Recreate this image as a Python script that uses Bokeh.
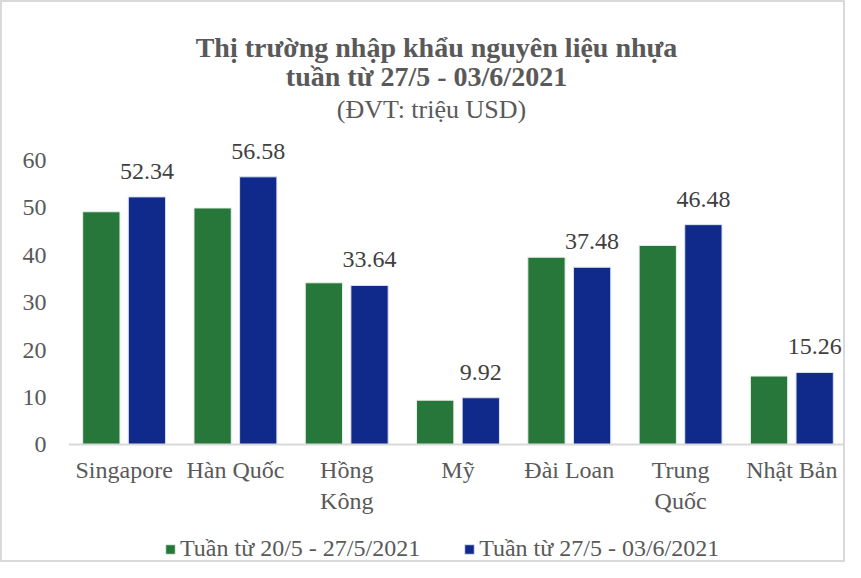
from bokeh.plotting import figure
from bokeh.models import (ColumnDataSource, FixedTicker, Label, Legend, LegendItem, Range1d)
from bokeh.core.properties import value
from bokeh.embed import file_html
from bokeh.resources import INLINE

categories = ["Singapore", "Hàn Quốc", "Hồng\nKông", "Mỹ", "Đài Loan", "Trung\nQuốc", "Nhật Bản"]
week1 = [49.2, 50.0, 34.2, 9.4, 39.6, 42.1, 14.5]
week2 = [52.34, 56.58, 33.64, 9.92, 37.48, 46.48, 15.26]
series_names = ["Tuần từ 20/5 - 27/5/2021", "Tuần từ 27/5 - 03/6/2021"]
y_ticks = [0, 10, 20, 30, 40, 50, 60]

FONT = "Liberation Serif"
GREEN = "#27763A"
BLUE = "#102A8B"
GRAY = "#595959"

idx = list(range(len(categories)))
dodge = 0.205
bw = 0.335
src = ColumnDataSource(dict(
    x1=[i - dodge for i in idx], x2=[i + dodge for i in idx],
    w1=week1, w2=week2, lab=[f"{v:.2f}" for v in week2],
))

W, H = 845, 562
# frame spans full canvas height; the x axis sits at y=0 (fixed location)
p = figure(width=W, height=H, output_backend="svg", toolbar_location=None,
           x_range=Range1d(-0.5, len(categories) - 0.5), y_range=Range1d(-25.3, 93.4),
           min_border_left=66, min_border_right=0, min_border_top=0, min_border_bottom=0)
p.styles = {"border": "2px solid #d9d9d9"}
p.outline_line_color = None
p.grid.grid_line_color = None

r1 = p.vbar(x="x1", top="w1", width=bw, source=src, fill_color=GREEN, line_color="#e8f0ea", line_width=1)
r2 = p.vbar(x="x2", top="w2", width=bw, source=src, fill_color=BLUE, line_color="#dde2f0", line_width=1)

p.text(x="x2", y="w2", text="lab", source=src, text_align="center", text_baseline="bottom",
       y_offset=-18, text_font=value(FONT), text_font_size="24px", text_color="#404040")

p.xaxis.fixed_location = 0
p.xaxis.ticker = FixedTicker(ticks=idx)
p.xaxis.major_label_overrides = {i: c for i, c in enumerate(categories)}
p.xaxis.major_tick_line_color = None
p.xaxis.minor_tick_line_color = None
p.xaxis.axis_line_color = "#d9d9d9"
p.xaxis.axis_line_width = 2
p.xaxis.major_label_standoff = 6
p.xaxis.major_label_text_font = FONT
p.xaxis.major_label_text_font_size = "24px"
p.xaxis.major_label_text_color = GRAY

p.yaxis.ticker = FixedTicker(ticks=y_ticks)
p.yaxis.major_tick_line_color = None
p.yaxis.minor_tick_line_color = None
p.yaxis.axis_line_color = None
p.yaxis.major_label_standoff = 16
p.yaxis.major_label_text_font = FONT
p.yaxis.major_label_text_font_size = "24px"
p.yaxis.major_label_text_color = GRAY

# screen units are relative to the plot frame (origin at frame bottom-left)
for txt, xx, yy, style, size in [("Thị trường nhập khẩu nguyên liệu nhựa", 368, 517, "bold", "28px"),
                                  ("tuần từ 27/5 - 03/6/2021", 358, 488, "bold", "28px"),
                                  ("(ĐVT: triệu USD)", 363, 455, "normal", "26px")]:
    p.add_layout(Label(x=xx, y=yy, x_units="screen", y_units="screen", text=txt,
                       text_align="center", text_baseline="middle", text_font=FONT,
                       text_font_style=style, text_font_size=size, text_color=GRAY))

legend = Legend(items=[LegendItem(label=series_names[0], renderers=[r1]),
                       LegendItem(label=series_names[1], renderers=[r2])],
                orientation="horizontal", location=(96, 2),
                label_text_font=FONT, label_text_font_size="24px", label_text_color=GRAY,
                glyph_width=12, glyph_height=12, spacing=43, label_standoff=4,
                border_line_color=None, background_fill_alpha=0, margin=0, padding=0)
p.add_layout(legend)

open("out.html", "w").write(file_html(p, INLINE))
